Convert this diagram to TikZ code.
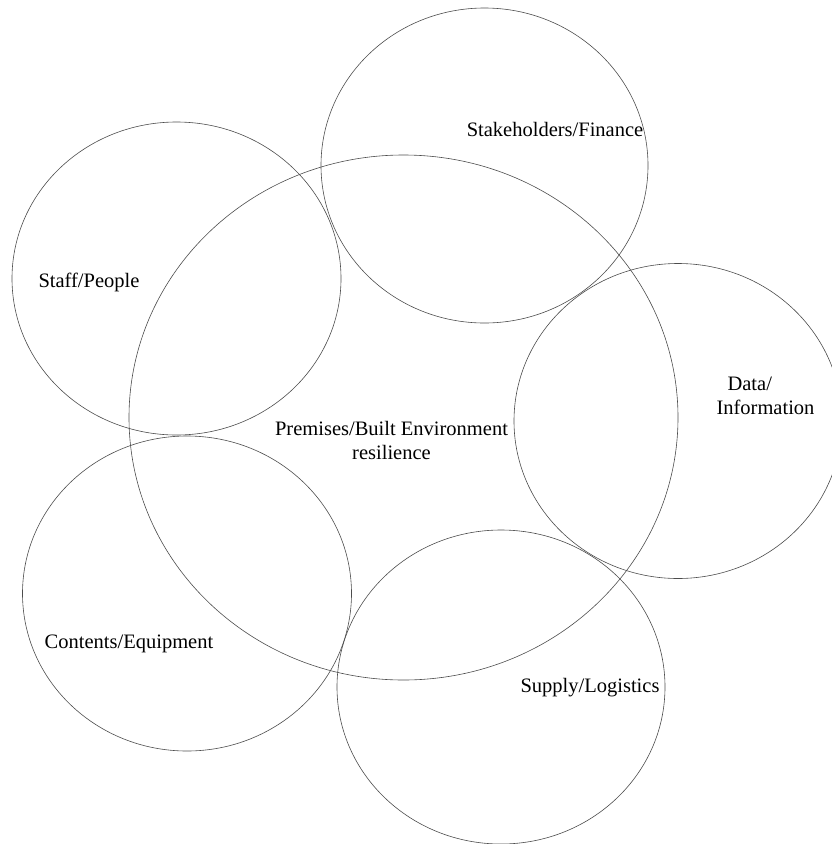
\documentclass[tikz,border=0pt]{standalone}
\usepackage{fontspec}
\setmainfont{Liberation Serif}

\begin{document}
\begin{tikzpicture}[x=1pt,y=-1pt,
    ring/.style={draw=black!70,line width=0.6pt},
    tag/.style={inner sep=0pt,font=\fontsize{20.5}{24}\selectfont}]
  \useasboundingbox (0,0) rectangle (832,844);
  % the core and the five rings round it
  \draw[ring] (403.5,417.5) ellipse [x radius=274.5,y radius=262.5];
  \draw[ring] (484.5,165.5) ellipse [x radius=163.5,y radius=157.5];
  \draw[ring] (176.5,278.5) ellipse [x radius=164.5,y radius=156.5];
  \draw[ring] (678,421) ellipse [x radius=164,y radius=157.5];
  \draw[ring] (187,593.5) ellipse [x radius=164.5,y radius=157.5];
  \draw[ring] (501,687) ellipse [x radius=164,y radius=157];
  % labels
  \node[tag,anchor=base] (stake) at (555,136) {Stakeholders/Finance};
  \node[tag,anchor=base] (staff) at (89,287) {Staff/People};
  \node[tag,align=left] (data) at (765.5,395.7) {\hspace*{11pt}Data/\\Information};
  \node[tag,align=center] (core) at (391.5,440.5) {Premises/Built Environment\\resilience};
  \node[tag,anchor=base] (contents) at (129,648.5) {Contents/Equipment};
  \node[tag,anchor=base] (supply) at (590,692) {Supply/Logistics};
\end{tikzpicture}
\end{document}
